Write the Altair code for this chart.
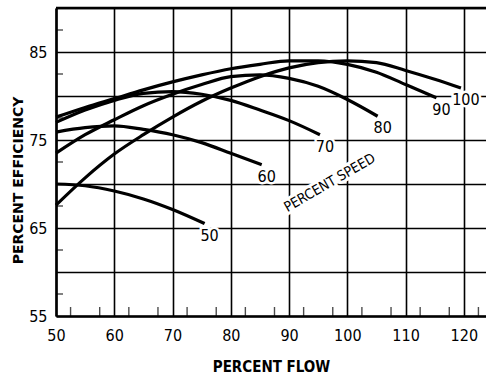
import altair as alt
import pandas as pd

# ---- data ----
speed_labels = ["50", "60", "70", "80", "90", "100"]

flow_50 = [50, 55, 60, 65, 70, 75.5]
eff_50 = [70.0, 69.8, 69.2, 68.3, 67.1, 65.5]

flow_60 = [50, 55, 60, 65, 70, 75, 80, 85.3]
eff_60 = [75.9, 76.4, 76.6, 76.2, 75.6, 74.7, 73.5, 72.2]

flow_70 = [50, 55, 60, 65, 70, 75, 80, 85, 90, 95.3]
eff_70 = [77.0, 78.4, 79.5, 80.3, 80.5, 80.2, 79.5, 78.4, 77.2, 75.6]

flow_80 = [50, 55, 60, 65, 70, 75, 80, 85, 90, 95, 100, 105.2]
eff_80 = [73.5, 75.6, 77.3, 78.9, 80.2, 81.3, 82.2, 82.4, 82.0, 81.1, 79.6, 77.7]

flow_90 = [50, 55, 60, 65, 70, 75, 80, 85, 90, 95, 100, 105, 110, 115.3]
eff_90 = [77.6, 78.7, 79.7, 80.7, 81.6, 82.4, 83.1, 83.6, 84.0, 84.0, 83.6, 82.7, 81.3, 79.8]

flow_100 = [50, 55, 60, 65, 70, 75, 80, 85, 90, 95, 100, 105, 110, 115, 119.5]
eff_100 = [67.6, 70.7, 73.4, 75.6, 77.6, 79.4, 80.9, 82.2, 83.2, 83.8, 84.0, 83.8, 82.9, 81.9, 80.9]

x_grid_values = [50, 55, 60, 65, 70, 75, 80, 85, 90, 95, 100, 105, 110, 115, 120]
y_grid_values = [55, 60, 65, 70, 75, 80, 85, 90]
x_minor_ticks = [52.5, 57.5, 62.5, 67.5, 72.5, 77.5, 82.5, 87.5, 92.5, 97.5,
                 102.5, 107.5, 112.5, 117.5, 122.5]
y_minor_ticks = [57.5, 62.5, 67.5, 72.5, 77.5, 82.5, 87.5]

flows = [flow_50, flow_60, flow_70, flow_80, flow_90, flow_100]
effs = [eff_50, eff_60, eff_70, eff_80, eff_90, eff_100]

rows = []
for lab, fl, ef in zip(speed_labels, flows, effs):
    for f, e in zip(fl, ef):
        rows.append({"speed": lab, "flow": f, "eff": e})
curves = pd.DataFrame(rows)
ends = pd.DataFrame({
    "speed": speed_labels,
    "flow": [fl[-1] for fl in flows],
    "eff": [ef[-1] for ef in effs],
})
xminor = pd.DataFrame({"v": x_minor_ticks})
yminor = pd.DataFrame({"v": y_minor_ticks})
top = pd.DataFrame({"v": [90]})

NARROW = "'Liberation Sans Narrow', 'DejaVu Sans Condensed', 'Liberation Sans', sans-serif"

xs = alt.Scale(domain=[50, 123.8], nice=False, zero=False)
ys = alt.Scale(domain=[55, 90], nice=False, zero=False)

xaxis = alt.Axis(
    values=x_grid_values, grid=True, gridColor="black", gridWidth=1.6, gridOpacity=1,
    ticks=False, tickSize=0, domainColor="black", domainWidth=2.6,
    labelExpr="datum.value % 10 === 0 ? datum.label : ''",
    labelFont=NARROW, labelFontSize=16, labelColor="black", labelPadding=11,
    labelFlush=False, labelOverlap=False,
    title="PERCENT FLOW", titleFont=NARROW, titleFontSize=15, titleFontWeight="bold",
    titleColor="black", titlePadding=16,
)
yaxis = alt.Axis(
    values=y_grid_values, grid=True, gridColor="black", gridWidth=1.6, gridOpacity=1,
    ticks=False, tickSize=0, domainColor="black", domainWidth=2.6,
    labelExpr="datum.value % 10 === 5 ? datum.label : ''",
    labelFont=NARROW, labelFontSize=16, labelColor="black", labelPadding=9,
    labelFlush=False, labelOverlap=False,
    title="PERCENT EFFICIENCY", titleFont="DejaVu Sans", titleFontSize=14,
    titleFontWeight="bold", titleColor="black", titleAngle=270,
    titleX=-38, titleY=172, titleAlign="center", titleBaseline="middle",
)

lines = alt.Chart(curves).mark_line(
    color="black", strokeWidth=3.2, interpolate="monotone"
).encode(
    x=alt.X("flow:Q", scale=xs, axis=xaxis),
    y=alt.Y("eff:Q", scale=ys, axis=yaxis),
    detail="speed:N",
)

top_rule = alt.Chart(top).mark_rule(color="black", strokeWidth=2.6).encode(
    y=alt.Y("v:Q", scale=ys)
)

xt = alt.Chart(xminor).mark_tick(
    orient="vertical", color="black", size=9, thickness=1.4, yOffset=-4.5
).encode(x=alt.X("v:Q", scale=xs), y=alt.datum(55))

yt = alt.Chart(yminor).mark_tick(
    orient="horizontal", color="black", size=7, thickness=1.4, xOffset=3.5
).encode(y=alt.Y("v:Q", scale=ys), x=alt.datum(50))

label_halo = alt.Chart(ends).mark_text(
    font=NARROW, fontSize=16, dx=5, dy=12, color="white", stroke="white", strokeWidth=5
).encode(x=alt.X("flow:Q", scale=xs), y=alt.Y("eff:Q", scale=ys), text="speed:N")

label_text = alt.Chart(ends).mark_text(
    font=NARROW, fontSize=16, dx=5, dy=12, color="black"
).encode(x=alt.X("flow:Q", scale=xs), y=alt.Y("eff:Q", scale=ys), text="speed:N")

speed_halo = alt.Chart(top).mark_text(
    text="PERCENT SPEED", font=NARROW, fontSize=14, angle=330,
    color="white", stroke="white", strokeWidth=6
).encode(x=alt.datum(97.0), y=alt.datum(70.1))

speed_text = alt.Chart(top).mark_text(
    text="PERCENT SPEED", font=NARROW, fontSize=14, angle=330, color="black"
).encode(x=alt.datum(97.0), y=alt.datum(70.1))

chart = alt.layer(
    top_rule, xt, yt, label_halo, speed_halo, lines, label_text, speed_text
).properties(
    width=430, height=308,
    autosize=alt.AutoSizeParams(type="none"),
    padding={"left": 56, "top": 8, "right": 0, "bottom": 60},
    background="white",
).configure_view(stroke=None)

chart.save("out.html", embed_options={"renderer": "svg", "actions": False})
